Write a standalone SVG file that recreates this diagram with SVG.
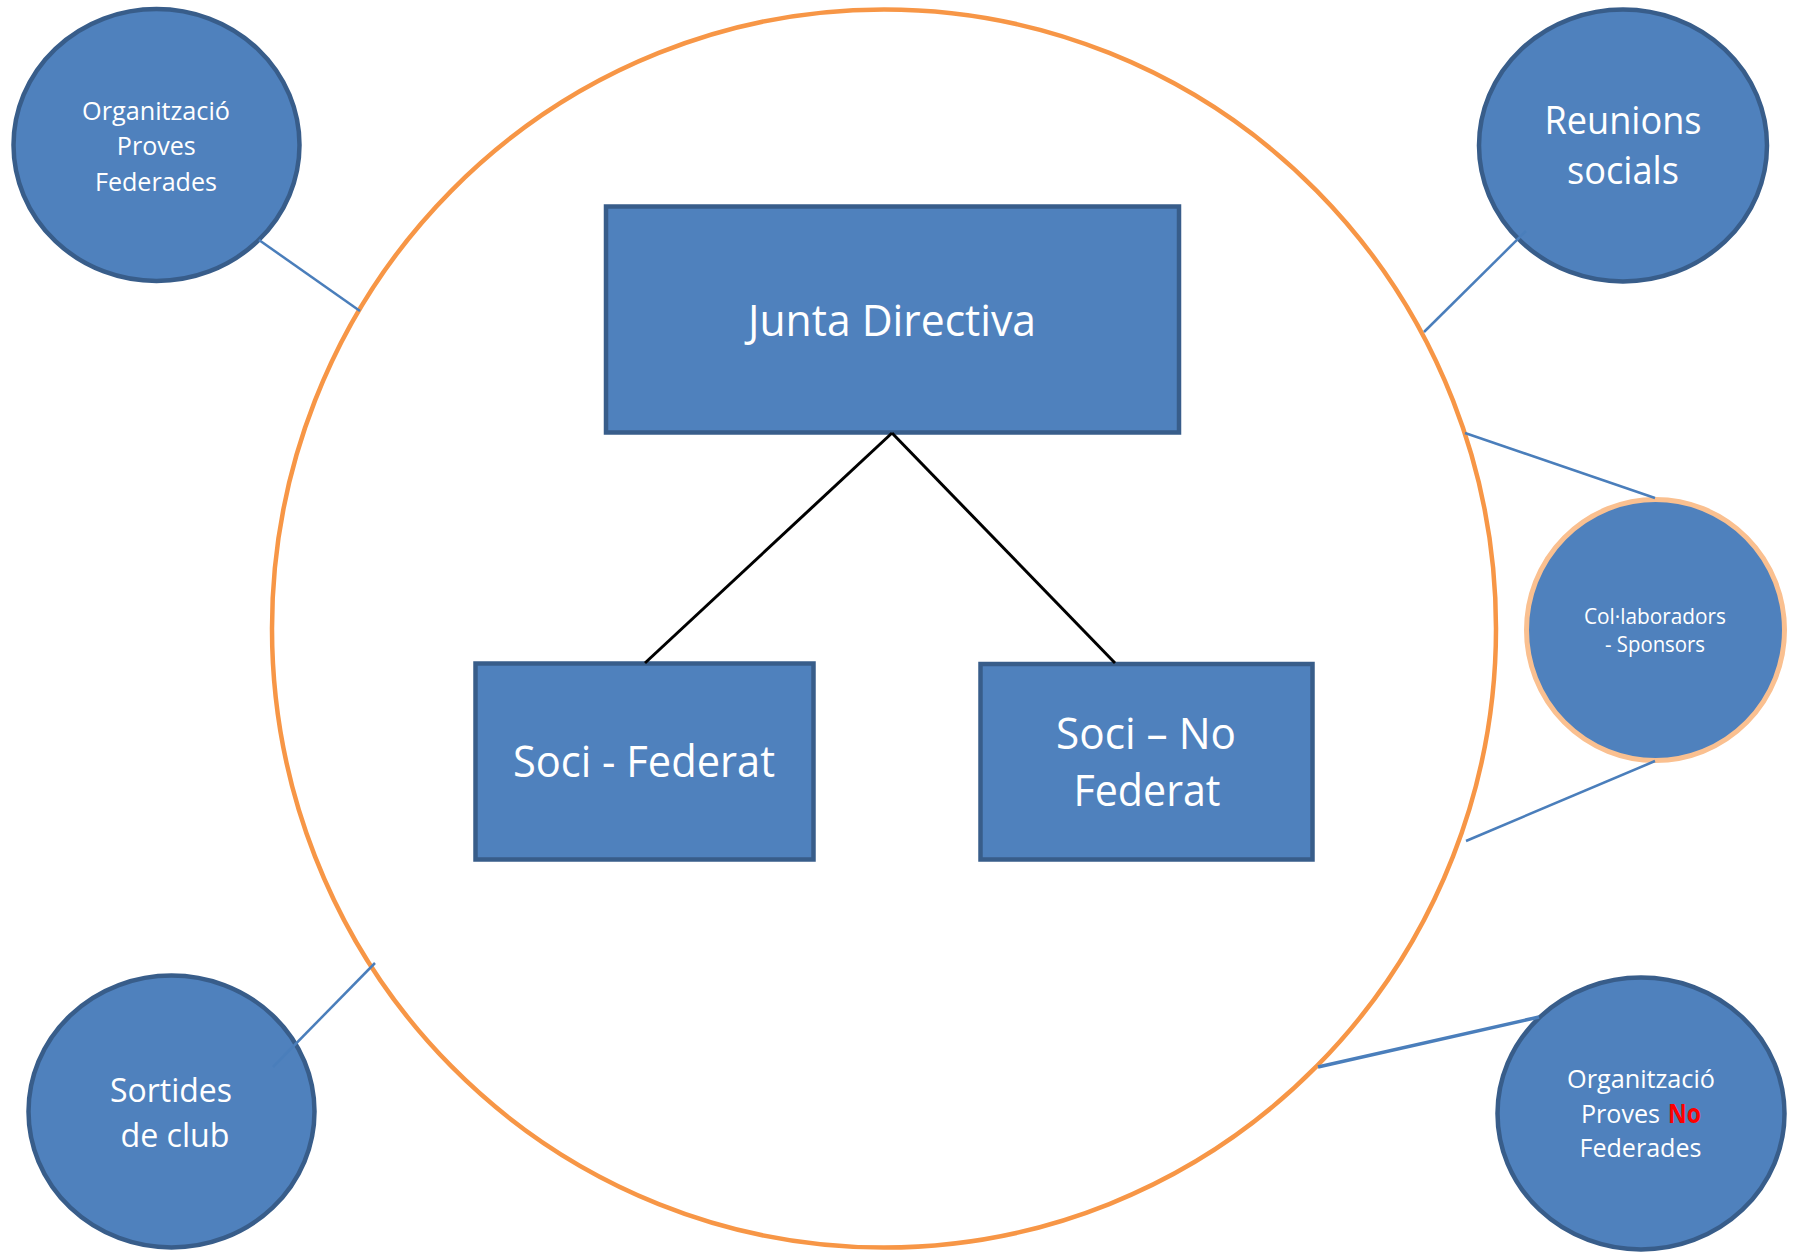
<svg xmlns="http://www.w3.org/2000/svg" width="1794" height="1253" viewBox="0 0 1794 1253">
  <style>
    .node { fill: #4F81BD; stroke: #385D8A; stroke-width: 4.5; }
    .collab { fill: #4F81BD; stroke: #FAC090; stroke-width: 5; }
    .boundary { fill: none; stroke: #F79646; stroke-width: 4.5; }
    .link { stroke: #4A7EBB; stroke-width: 2.5; fill: none; }
    .tree { stroke: #000000; stroke-width: 3; fill: none; }
    .lbl { fill: #FFFFFF; font-family: "Open Sans", "Noto Sans", "Liberation Sans", sans-serif; text-anchor: middle; }
    .big { font-size: 43px; }
    .mid { font-size: 37.5px; }
    .med { font-size: 33px; }
    .sm { font-size: 26px; }
    .xs { font-size: 21.5px; }
    .red { fill: #FF0000; font-weight: bold; }
  </style>
  <rect width="1794" height="1253" fill="#FFFFFF"/>

  <g id="club-boundary">
    <ellipse class="boundary" cx="884" cy="628.5" rx="612" ry="619"/>
  </g>

  <g id="junta-directiva">
    <rect class="node" x="606" y="206.5" width="573" height="226"/>
    <text class="lbl big" x="892" y="336" textLength="288" lengthAdjust="spacingAndGlyphs">Junta Directiva</text>
  </g>

  <g id="soci-federat">
    <rect class="node" x="475.5" y="663.5" width="338" height="196"/>
    <text class="lbl big" x="644" y="777" textLength="262" lengthAdjust="spacingAndGlyphs">Soci - Federat</text>
  </g>

  <g id="soci-no-federat">
    <rect class="node" x="980.5" y="664" width="332" height="195.5"/>
    <text class="lbl big" x="1146" y="749" textLength="180" lengthAdjust="spacingAndGlyphs">Soci – No</text>
    <text class="lbl big" x="1147" y="806" textLength="147" lengthAdjust="spacingAndGlyphs">Federat</text>
  </g>

  <g id="proves-federades">
    <ellipse class="node" cx="156.5" cy="145" rx="143" ry="136"/>
    <text class="lbl sm" x="156" y="120" textLength="148" lengthAdjust="spacingAndGlyphs">Organització</text>
    <text class="lbl sm" x="156.3" y="155" textLength="79" lengthAdjust="spacingAndGlyphs">Proves</text>
    <text class="lbl sm" x="156" y="191" textLength="122" lengthAdjust="spacingAndGlyphs">Federades</text>
  </g>

  <g id="reunions-socials">
    <ellipse class="node" cx="1623" cy="145.5" rx="144" ry="136"/>
    <text class="lbl mid" x="1623" y="134" textLength="157" lengthAdjust="spacingAndGlyphs">Reunions</text>
    <text class="lbl mid" x="1623" y="184" textLength="112" lengthAdjust="spacingAndGlyphs">socials</text>
  </g>

  <g id="collaboradors-sponsors">
    <ellipse class="collab" cx="1655.5" cy="630" rx="129" ry="130.5"/>
    <text class="lbl xs" x="1655" y="624" textLength="142" lengthAdjust="spacingAndGlyphs">Col·laboradors</text>
    <text class="lbl xs" x="1655" y="652" textLength="100" lengthAdjust="spacingAndGlyphs">- Sponsors</text>
  </g>

  <g id="sortides-club">
    <ellipse class="node" cx="171.5" cy="1111.5" rx="143" ry="136"/>
    <text class="lbl med" x="171" y="1102" textLength="122" lengthAdjust="spacingAndGlyphs">Sortides</text>
    <text class="lbl med" x="175" y="1147" textLength="109" lengthAdjust="spacingAndGlyphs">de club</text>
  </g>

  <g id="proves-no-federades">
    <ellipse class="node" cx="1641" cy="1113.5" rx="143.5" ry="136"/>
    <text class="lbl sm" x="1641" y="1088" textLength="148" lengthAdjust="spacingAndGlyphs">Organització</text>
    <text class="lbl sm" x="1620.5" y="1123" textLength="79" lengthAdjust="spacingAndGlyphs">Proves</text>
    <text class="lbl sm red" x="1684.5" y="1123" textLength="33" lengthAdjust="spacingAndGlyphs">No</text>
    <text class="lbl sm" x="1640.5" y="1157" textLength="122" lengthAdjust="spacingAndGlyphs">Federades</text>
  </g>

  <g id="connectors">
    <line class="tree" x1="892" y1="433" x2="645" y2="663"/>
    <line class="tree" x1="892" y1="433" x2="1115" y2="663"/>
    <line class="link" x1="259" y1="240" x2="360" y2="311"/>
    <line class="link" x1="1526" y1="231" x2="1424" y2="332"/>
    <line class="link" x1="1465" y1="433" x2="1655" y2="498"/>
    <line class="link" x1="1655" y1="761" x2="1466" y2="841"/>
    <line class="link" x1="375" y1="963" x2="273" y2="1067"/>
    <line class="link" style="stroke-width:3.5" x1="1318" y1="1067" x2="1539" y2="1017"/>
  </g>
</svg>
